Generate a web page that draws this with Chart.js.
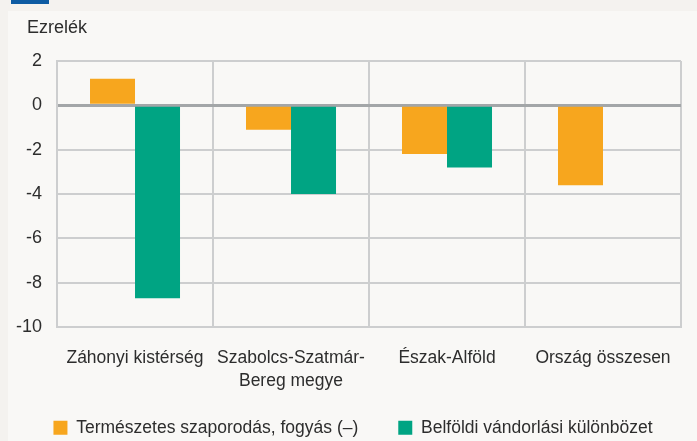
<!DOCTYPE html>
<html>
<head>
<meta charset="utf-8">
<script src="https://cdn.jsdelivr.net/npm/chart.js@4"></script>
<style>
  body { margin: 0; background: #f6f4f1; }
  #wrap { width: 697px; height: 441px; position: relative; }
</style>
</head>
<body>
<div id="wrap"><canvas id="chart" width="697" height="441"></canvas></div>
<script>
// data
const categories = [
    'Záhonyi kistérség',
    ['Szabolcs-Szatmár-', 'Bereg megye'],
    'Észak-Alföld',
    'Ország összesen'
];
const naturalChange = [1.2, -1.1, -2.2, -3.6];
const internalMigration = [-8.7, -4.0, -2.8, null];
const seriesNames = ['Természetes szaporodás, fogyás (–)', 'Belföldi vándorlási különbözet'];
const yTicks = [2, 0, -2, -4, -6, -8, -10];

const FONT = 'Liberation Sans, Arial, sans-serif';
const TEXT = '#2d2d2d';
const GRID = '#cdcecf';

// background, little blue tab and the "Ezrelék" unit label
const decor = {
    id: 'decor',
    afterLayout(chart) {
        // x labels overlap the legend box a little, don't let the scale clip them
        chart.scales.x.bottom = chart.height;
        // legend sits a bit right of centre in the original
        chart.legend.left += 12;
        chart.legend.right += 12;
    },
    beforeDraw(chart) {
        const ctx = chart.ctx;
        ctx.save();
        ctx.fillStyle = '#f4f2ef';
        ctx.fillRect(0, 0, chart.width, chart.height);
        ctx.fillStyle = '#f9f8f6';
        ctx.fillRect(8, 11, chart.width - 8, chart.height - 11);
        ctx.fillStyle = '#0d5ba3';
        ctx.fillRect(11, 0, 38, 4);
        ctx.restore();
    },
    afterDraw(chart) {
        const ctx = chart.ctx;
        ctx.save();
        ctx.fillStyle = TEXT;
        ctx.font = '18px ' + FONT;
        ctx.textBaseline = 'alphabetic';
        ctx.fillText('Ezrelék', 27, 33);
        ctx.restore();
    }
};

new Chart(document.getElementById('chart').getContext('2d'), {
    type: 'bar',
    data: {
        labels: categories,
        datasets: [
            { label: seriesNames[0], data: naturalChange, backgroundColor: '#f7a61e' },
            { label: seriesNames[1], data: internalMigration, backgroundColor: '#00a483' }
        ]
    },
    options: {
        responsive: false,
        animation: false,
        layout: { padding: { left: 1, right: 16, top: 61, bottom: 0 } },
        datasets: { bar: { categoryPercentage: 0.577, barPercentage: 1.0 } },
        scales: {
            x: {
                afterFit(scale) {
                    scale.height = 52;
                },
                grid: { offset: true, color: GRID, lineWidth: 2, drawTicks: false },
                border: { color: GRID, width: 2 },
                ticks: {
                    color: TEXT, padding: 19, maxRotation: 0, minRotation: 0, autoSkip: false,
                    font: { family: FONT, size: 17.5, lineHeight: 1.35 }
                }
            },
            y: {
                min: -10,
                max: 2,
                afterBuildTicks(axis) {
                    axis.ticks = yTicks.map(v => ({ value: v }));
                },
                grid: {
                    drawTicks: false,
                    color: c => (c.tick && c.tick.value === 0 ? '#a3a6a8' : GRID),
                    lineWidth: c => (c.tick && c.tick.value === 0 ? 3 : 2)
                },
                border: { color: GRID, width: 2 },
                ticks: { color: TEXT, padding: 15, font: { family: FONT, size: 18 } }
            }
        },
        plugins: {
            legend: {
                position: 'bottom',
                maxHeight: 62,
                labels: {
                    color: TEXT,
                    boxWidth: 14,
                    boxHeight: 14,
                    padding: 40,
                    font: { family: FONT, size: 17.5 }
                }
            },
            tooltip: { enabled: false }
        }
    },
    plugins: [decor]
});
</script>
</body>
</html>
